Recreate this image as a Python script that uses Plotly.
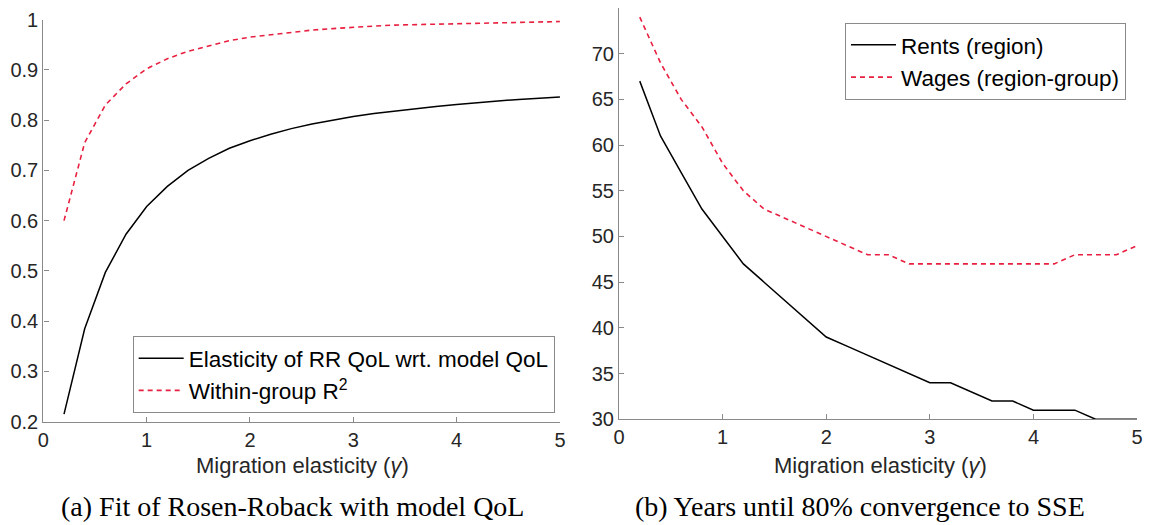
import plotly.graph_objects as go
from plotly.subplots import make_subplots

gamma = [0.2, 0.4, 0.6, 0.8, 1.0, 1.2, 1.4, 1.6, 1.8, 2.0, 2.2, 2.4, 2.6,
         2.8, 3.0, 3.2, 3.4, 3.6, 3.8, 4.0, 4.2, 4.4, 4.6, 4.8, 5.0]

# (a) fit of Rosen-Roback with model QoL
rr_elasticity = [0.215, 0.385, 0.497, 0.573, 0.628, 0.668, 0.700, 0.724, 0.744, 0.759,
                 0.772, 0.783, 0.792, 0.800, 0.807, 0.813, 0.818, 0.823, 0.827, 0.831,
                 0.835, 0.838, 0.841, 0.843, 0.846]
within_r2 = [0.600, 0.755, 0.830, 0.872, 0.902, 0.922, 0.937, 0.948, 0.958, 0.965,
             0.970, 0.975, 0.979, 0.982, 0.985, 0.987, 0.989, 0.990, 0.991, 0.992,
             0.993, 0.994, 0.995, 0.995, 0.996]

# (b) years until 80% convergence
rents_years = [67, 61, 57, 53, 50, 47, 45, 43, 41, 39, 38, 37, 36,
               35, 34, 34, 33, 32, 32, 31, 31, 31, 30, 30, 30]
wages_years = [74, 69, 65, 62, 58, 55, 53, 52, 51, 50, 49, 48, 48,
               47, 47, 47, 47, 47, 47, 47, 47, 48, 48, 48, 49]

x_ticks = [0, 1, 2, 3, 4, 5]
left_ticks = [0.2, 0.3, 0.4, 0.5, 0.6, 0.7, 0.8, 0.9, 1.0]
left_labels = ["0.2", "0.3", "0.4", "0.5", "0.6", "0.7", "0.8", "0.9", "1"]
right_ticks = [30, 35, 40, 45, 50, 55, 60, 65, 70]

red = "#e8203f"
axis_grey = "#8a8a8a"
text_col = "#262626"
sans = "Liberation Sans, Arial, sans-serif"
serif = "Liberation Serif, serif"
dash = "5px,4px"

fig = make_subplots(rows=1, cols=2)

fig.add_trace(go.Scatter(x=gamma, y=rr_elasticity, mode="lines",
                         name="Elasticity of RR QoL wrt. model QoL",
                         line=dict(color="black", width=1.5), legend="legend"), row=1, col=1)
fig.add_trace(go.Scatter(x=gamma, y=within_r2, mode="lines",
                         name="Within-group R<sup>2</sup>",
                         line=dict(color=red, width=1.6, dash=dash), legend="legend"), row=1, col=1)
fig.add_trace(go.Scatter(x=gamma, y=rents_years, mode="lines",
                         name="Rents (region)",
                         line=dict(color="black", width=1.5), legend="legend2"), row=1, col=2)
fig.add_trace(go.Scatter(x=gamma, y=wages_years, mode="lines",
                         name="Wages (region-group)",
                         line=dict(color=red, width=1.6, dash=dash), legend="legend2"), row=1, col=2)

axis_common = dict(showline=True, linecolor=axis_grey, linewidth=1.3, ticks="inside",
                   ticklen=5, tickcolor=axis_grey, showgrid=False, zeroline=False,
                   automargin=False, ticklabeloverflow="allow",
                   tickfont=dict(family=sans, size=20, color=text_col))

# the page puts the plot 8px in from the top-left corner, domains allow for that
fig.update_xaxes(axis_common, range=[0, 5], tickvals=x_ticks)
fig.update_xaxes(domain=[0.0304, 0.4746], row=1, col=1)
fig.update_xaxes(domain=[0.5254, 0.9708], row=1, col=2)
fig.update_yaxes(axis_common)
fig.update_yaxes(domain=[0.2120, 0.9780], range=[0.2, 1.0], tickvals=left_ticks,
                 ticktext=left_labels, row=1, col=1)
fig.update_yaxes(domain=[0.2166, 1.0], range=[30, 75], tickvals=right_ticks, row=1, col=2)

legend_common = dict(bgcolor="white", bordercolor=axis_grey, borderwidth=1,
                     font=dict(family=sans, size=22.5, color="black"),
                     xanchor="left", yanchor="top", tracegroupgap=0, itemwidth=45)
fig.update_layout(
    width=1163, height=525,
    margin=dict(l=0, r=0, t=0, b=0, autoexpand=False),
    plot_bgcolor="white", paper_bgcolor="white",
    legend=dict(legend_common, x=0.1072, y=0.3752),
    legend2=dict(legend_common, x=0.7197, y=0.972),
)

for xc in [0.2533, 0.7506]:
    fig.add_annotation(x=xc, y=0.1295, xref="paper", yref="paper", showarrow=False,
                       xanchor="center", yanchor="middle",
                       text="Migration elasticity (<i>γ</i>)",
                       font=dict(family=sans, size=22, color=text_col))

fig.add_annotation(x=0.2447, y=0.0514, xref="paper", yref="paper", showarrow=False,
                   xanchor="center", yanchor="middle",
                   text="(a) Fit of Rosen-Roback with model QoL",
                   font=dict(family=serif, size=28, color="black"))
fig.add_annotation(x=0.7326, y=0.0514, xref="paper", yref="paper", showarrow=False,
                   xanchor="center", yanchor="middle",
                   text="(b) Years until 80% convergence to SSE",
                   font=dict(family=serif, size=28, color="black"))

fig.write_html("out.html")
